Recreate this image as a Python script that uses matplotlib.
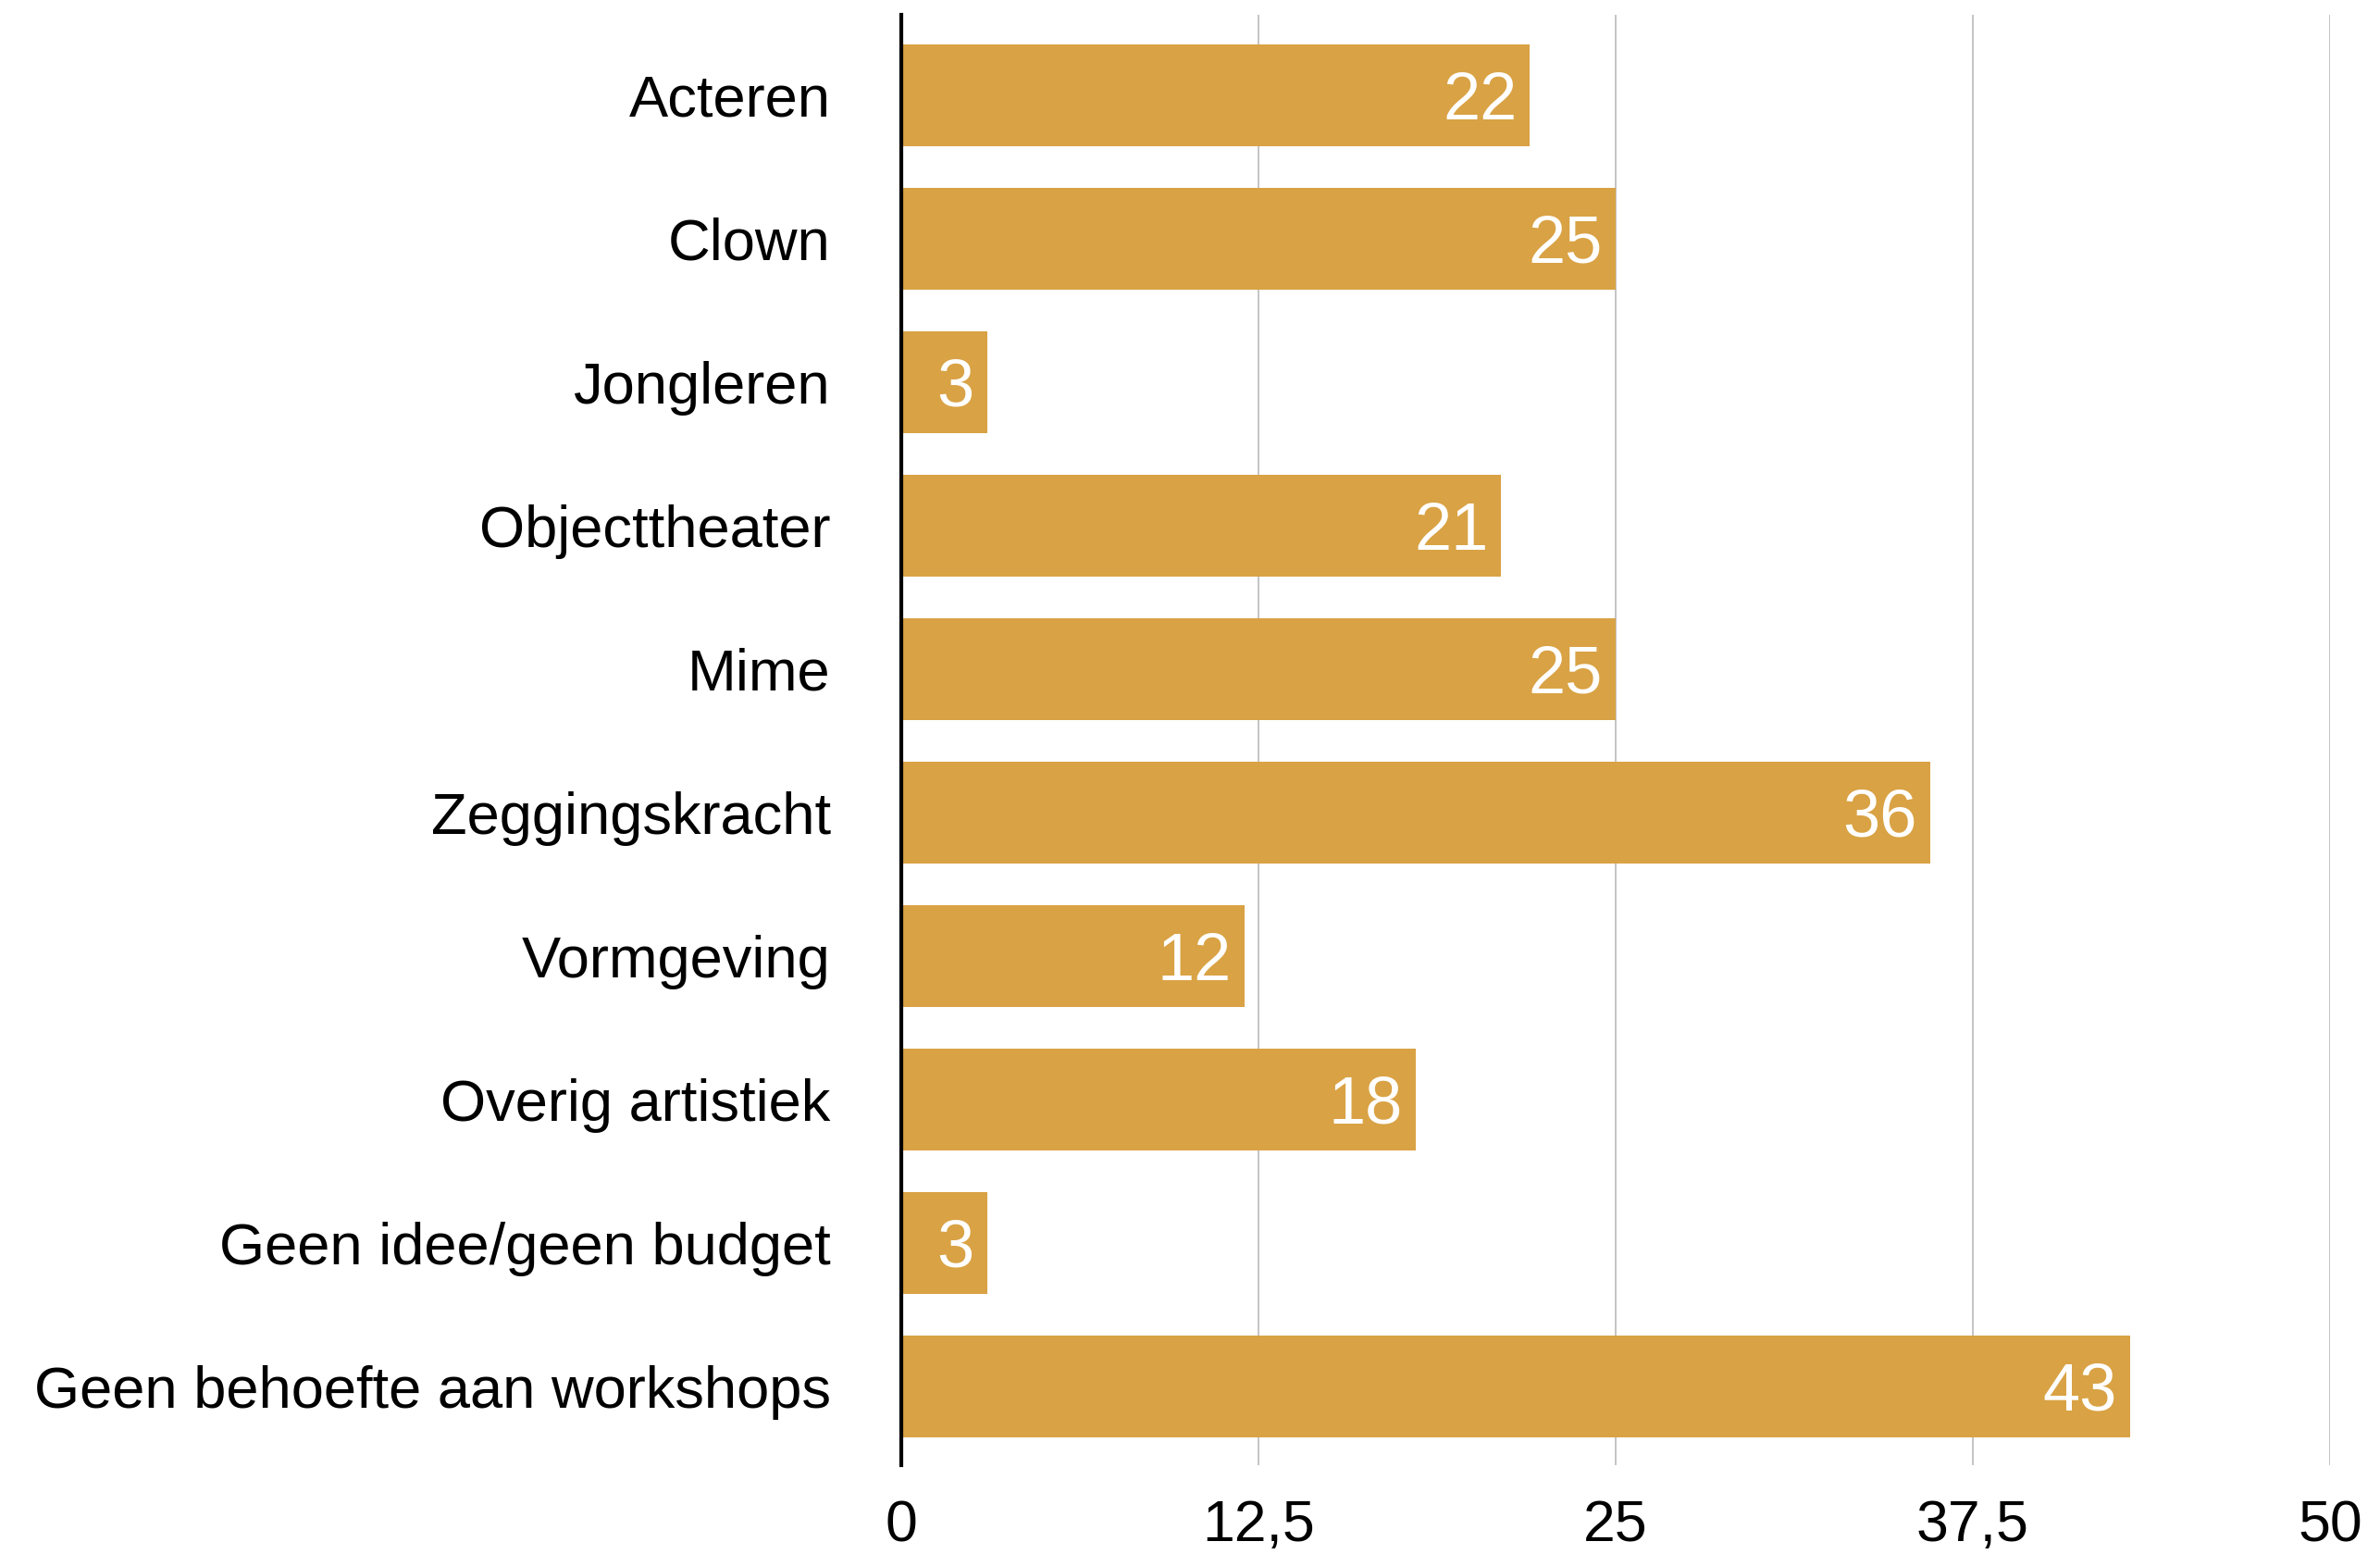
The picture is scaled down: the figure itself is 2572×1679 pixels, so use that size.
import matplotlib
matplotlib.use("Agg")
import matplotlib.pyplot as plt

plt.rcParams['font.family'] = ['Liberation Sans', 'DejaVu Sans']

categories = [
    "Acteren",
    "Clown",
    "Jongleren",
    "Objecttheater",
    "Mime",
    "Zeggingskracht",
    "Vormgeving",
    "Overig artistiek",
    "Geen idee/geen budget",
    "Geen behoefte aan workshops",
]
counts = [22, 25, 3, 21, 25, 36, 12, 18, 3, 43]
xticks = [0, 12.5, 25, 37.5, 50]
xtick_labels = ["0", "12,5", "25", "37,5", "50"]

bar_color = "#D9A244"

fig = plt.figure(figsize=(25.72, 16.79), dpi=100)
ax = fig.add_axes([0.3787, 0.0572, 0.979 - 0.3787, 0.9905 - 0.0572])

pos = list(range(len(categories)))
ax.barh(pos, counts, height=0.71, color=bar_color, zorder=2)

# value labels sit inside the bar, right-aligned at its end
for i, v in enumerate(counts):
    ax.annotate(str(v), xy=(v, i), xytext=(-10, 0), textcoords="offset points",
                ha="right", va="center_baseline", color="white", fontsize=52, zorder=3)

ax.set_xlim(0, 50)
ax.set_ylim(9.55, -0.56)
ax.set_yticks(pos)
ax.set_yticklabels(categories, fontsize=45.5)
ax.set_xticks(xticks)
ax.set_xticklabels(xtick_labels, fontsize=45)
ax.tick_params(axis="y", length=0, pad=55)
ax.tick_params(axis="x", length=0, pad=26)

for x in xticks[1:]:
    ax.axvline(x, color="#c4c4c4", linewidth=1.4, zorder=1)

for side in ["top", "right", "bottom"]:
    ax.spines[side].set_visible(False)
ax.spines["left"].set_linewidth(3)
ax.spines["left"].set_color("black")
ax.spines["left"].set_zorder(4)

fig.savefig("out.png", dpi=100)
